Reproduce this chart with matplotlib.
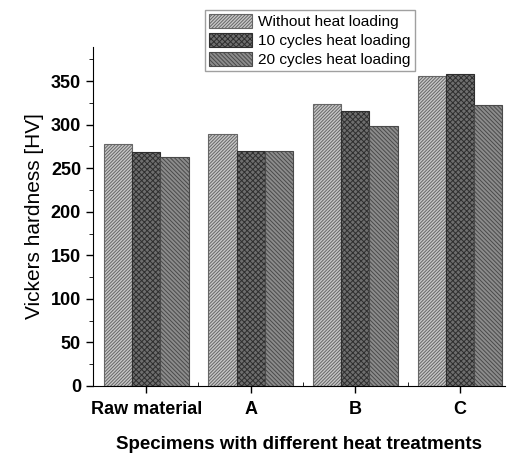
import matplotlib
matplotlib.use("Agg")
import matplotlib.pyplot as plt
from matplotlib.ticker import MultipleLocator
import numpy as np

categories = ["Raw material", "A", "B", "C"]
series_names = ["Without heat loading", "10 cycles heat loading", "20 cycles heat loading"]
without_heat = [278, 289, 324, 356]
cycles_10 = [269, 270, 316, 358]
cycles_20 = [263, 270, 298, 322]

plt.rcParams['font.family'] = ['Liberation Sans', 'DejaVu Sans']
plt.rcParams['hatch.linewidth'] = 0.7

fig = plt.figure(figsize=(5.1, 4.53), dpi=100)
ax = fig.add_axes([0.182, 0.148, 0.808, 0.748])

x = np.arange(len(categories))
w = 0.27
styles = [
    dict(facecolor="#c8c8c8", edgecolor="#666666", hatch="//////////"),
    dict(facecolor="#6e6e6e", edgecolor="#2e2e2e", hatch="xxxxxx"),
    dict(facecolor="#8c8c8c", edgecolor="#4a4a4a", hatch="\\\\\\\\\\\\\\\\"),
]
bars = []
for i, vals in enumerate([without_heat, cycles_10, cycles_20]):
    b = ax.bar(x + (i - 1) * w, vals, w, linewidth=0.8, label=series_names[i], **styles[i])
    bars.append(b)

ax.set_xlim(-0.51, 3.43)
ax.set_ylim(0, 389)
ax.yaxis.set_major_locator(MultipleLocator(50))
ax.yaxis.set_minor_locator(MultipleLocator(25))
ax.set_xticks(x)
ax.set_xticks(x[:-1] + 0.5, minor=True)
ax.set_xticklabels(categories, fontsize=13, fontweight='bold')
for lab in ax.get_yticklabels():
    lab.set_fontsize(13)
    lab.set_fontweight('bold')

ax.spines['top'].set_visible(False)
ax.spines['right'].set_visible(False)
ax.tick_params(axis='both', which='major', direction='out', length=5, width=1)
ax.tick_params(axis='x', which='major', pad=6)
ax.tick_params(axis='y', which='minor', direction='out', length=3)
ax.tick_params(axis='x', which='minor', direction='in', length=3)

ax.set_ylabel("Vickers hardness [HV]", fontsize=15, labelpad=5)
ax.set_xlabel("Specimens with different heat treatments", fontsize=13.5, fontweight='bold', labelpad=13)

leg = fig.legend(handles=bars, loc='upper left', bbox_to_anchor=(0.402, 0.978),
                 fontsize=11.1, frameon=True, fancybox=False, edgecolor="#888888",
                 handlelength=2.8, handleheight=1.0, labelspacing=0.25,
                 borderpad=0.25, handletextpad=0.4, borderaxespad=0)
leg.get_frame().set_linewidth(1.0)

fig.savefig("out.png", dpi=100)
